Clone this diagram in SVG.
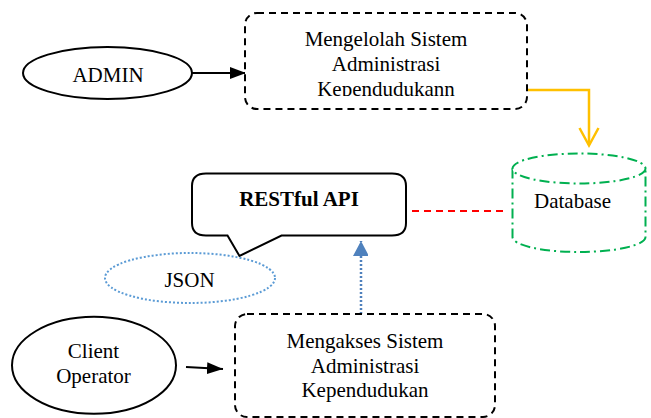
<svg xmlns="http://www.w3.org/2000/svg" width="651" height="418" viewBox="0 0 651 418">
<style>
text{font-family:"Liberation Serif","Times New Roman",serif;font-size:21px;fill:#000;text-anchor:middle}
.solid{fill:#fff;stroke:#000;stroke-width:2}
.dash{fill:#fff;stroke:#000;stroke-width:2;stroke-dasharray:7 5}
</style>
<defs>
<marker id="blk" markerWidth="16" markerHeight="12" refX="16" refY="6" orient="auto" markerUnits="userSpaceOnUse"><path d="M0,0 L16,6 L0,12 Z" fill="#000"/></marker>
<marker id="blu" markerWidth="16" markerHeight="15" refX="15" refY="8" orient="auto" markerUnits="userSpaceOnUse"><path d="M0,0 L15,8 L0,16 Z" fill="#4F81BD"/></marker>
<clipPath id="clipTop"><rect x="245" y="13" width="282" height="83"/></clipPath>
</defs>
<g id="connectors">
<line x1="192" y1="73" x2="246" y2="73" stroke="#000" stroke-width="2" marker-end="url(#blk)"/>
<line x1="186" y1="367" x2="223" y2="369" stroke="#000" stroke-width="2" marker-end="url(#blk)"/>
<g fill="none" stroke="#FFC000" stroke-width="2.5">
<path d="M528,90 H589 V145"/>
<path d="M579.5,128 L589,145.5 L598.5,128"/>
</g>
<line x1="412" y1="211" x2="506" y2="211" stroke="#FF0000" stroke-width="2" stroke-dasharray="7 5"/>
<line x1="361" y1="314" x2="361" y2="241" stroke="#4F81BD" stroke-width="2.5" stroke-dasharray="2 2" marker-end="url(#blu)"/>
</g>
<g id="admin">
<ellipse class="solid" cx="107.5" cy="73" rx="84.5" ry="26"/>
<text x="108" y="82">ADMIN</text>
</g>
<g id="mengelolah">
<rect class="dash" x="245" y="13" width="282" height="96" rx="12"/>
<g clip-path="url(#clipTop)">
<text x="386" y="46">Mengelolah Sistem</text>
<text x="386" y="71">Administrasi</text>
<text x="386" y="96">Kependudukann</text>
</g>
</g>
<g id="database">
<path d="M512.5,168.5 V237 A66.5,15 0 0 0 645.5,237 V168.5" fill="#fff" stroke="#00B050" stroke-width="2" stroke-dasharray="10 4 2 4"/>
<ellipse cx="579" cy="168.5" rx="66.5" ry="15" fill="#fff" stroke="#00B050" stroke-width="2" stroke-dasharray="10 4 2 4"/>
<text x="572.5" y="208">Database</text>
</g>
<g id="restful">
<path class="solid" d="M206,173.5 H392 Q406,173.5 406,186 V223 Q406,235.5 392,235.5 H281.5 L239.5,256 L227.5,235.5 H206 Q192,235.5 192,223 V186 Q192,173.5 206,173.5 Z"/>
<text x="299" y="206" font-weight="bold">RESTful API</text>
</g>
<g id="json">
<ellipse cx="190" cy="278" rx="85" ry="25" fill="none" stroke="#5B9BD5" stroke-width="2" stroke-dasharray="2 2"/>
<text x="189.5" y="287">JSON</text>
</g>
<g id="client">
<ellipse class="solid" cx="94" cy="365.3" rx="82" ry="48.5"/>
<text x="93.5" y="357.5">Client</text>
<text x="93.5" y="382.5">Operator</text>
</g>
<g id="mengakses">
<rect class="dash" x="235" y="314" width="260" height="103" rx="12"/>
<text x="365" y="348">Mengakses Sistem</text>
<text x="365" y="372.5">Administrasi</text>
<text x="365" y="397">Kependudukan</text>
</g>
</svg>
